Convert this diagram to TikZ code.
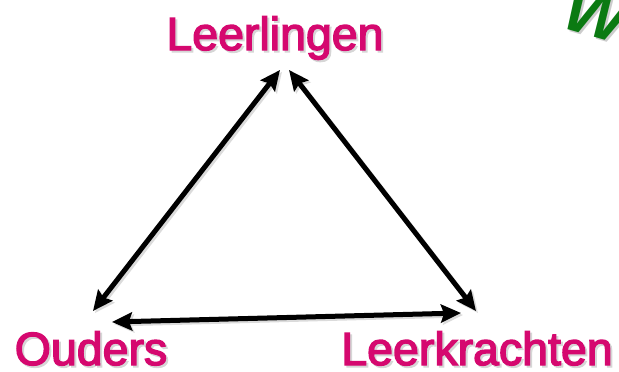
\documentclass[tikz,border=0pt]{standalone}
\usepackage{fontspec}
\setmainfont{Liberation Sans}
\newfontfamily\lblfont[FakeBold=3]{Liberation Sans}
\usetikzlibrary{arrows.meta}
\definecolor{mag}{HTML}{D5086F}
\definecolor{wgreen}{HTML}{0B7A12}
\tikzset{
  lbl/.style={text=mag, font=\lblfont\fontsize{46.5}{50}\selectfont, inner sep=0pt, anchor=base},
  lblshadow/.style={text=black!16, font=\lblfont\fontsize{46.5}{50}\selectfont, inner sep=0pt, anchor=base},
  link/.style={line width=5pt, {Stealth[length=20pt,width=18pt,inset=3pt]}-{Stealth[length=20pt,width=18pt,inset=3pt]}},
  linkshadow/.style={line width=5pt, draw=black!14, {Stealth[length=20pt,width=18pt,inset=3pt]}-{Stealth[length=20pt,width=18pt,inset=3pt]}},
  wletter/.style={font=\fontsize{66}{70}\selectfont\bfseries\itshape, inner sep=0pt, anchor=base west, rotate=-16},
}
\begin{document}
\begin{tikzpicture}[x=1pt,y=-1pt]
\useasboundingbox (0,0) rectangle (619,372);
\begin{scope}
\clip (0,0) rectangle (619,372);
\node[wletter, text=black!20] at (562,29) {W};
\node[wletter, text=wgreen] (w) at (560,27) {W};
\end{scope}
% shadows of labels
\node[lblshadow] at (277,52) {Leerlingen};
\node[lblshadow] at (93,367) {Ouders};
\node[lblshadow] at (479,367) {Leerkrachten};
% labels
\node[lbl] (leer) at (275,50) {Leerlingen};
\node[lbl] (oud) at (91,365) {Ouders};
\node[lbl] (kr) at (477,365) {Leerkrachten};
% arrow end points
\coordinate (a1) at (280,70);
\coordinate (a2) at (93,311);
\coordinate (b1) at (289,70);
\coordinate (b2) at (476,311);
\coordinate (c1) at (112,322);
\coordinate (c2) at (461,313);
% shadows of arrows
\draw[linkshadow] ([shift={(2,2)}]a1) -- ([shift={(2,2)}]a2);
\draw[linkshadow] ([shift={(2,2)}]b1) -- ([shift={(2,2)}]b2);
\draw[linkshadow] ([shift={(2,2)}]c1) -- ([shift={(2,2)}]c2);
% arrows
\draw[link] (a1) -- (a2);
\draw[link] (b1) -- (b2);
\draw[link] (c1) -- (c2);
\end{tikzpicture}
\end{document}
